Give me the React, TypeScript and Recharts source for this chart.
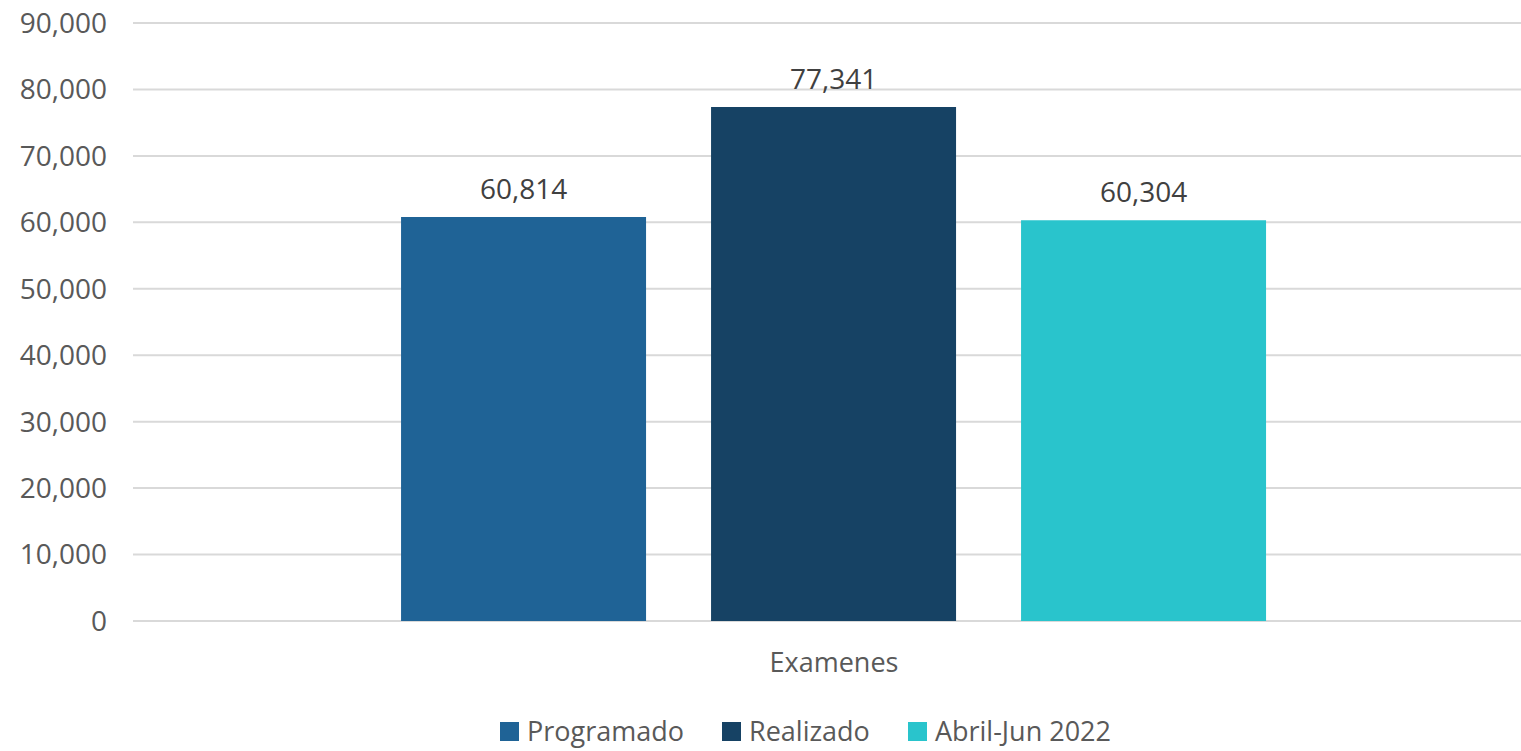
import { BarChart, Bar, XAxis, YAxis, CartesianGrid, Legend, LabelList } from 'recharts';

const categories = ['Examenes'];
const programado = [60814];
const realizado = [77341];
const abrilJun = [60304];
const yTicks = [0, 10000, 20000, 30000, 40000, 50000, 60000, 70000, 80000, 90000];

const series = [
  { key: 'programado', name: 'Programado', color: '#1F6396' },
  { key: 'realizado', name: 'Realizado', color: '#164264' },
  { key: 'abril', name: 'Abril-Jun 2022', color: '#29C4CC' },
];

const data = categories.map((c, i) => ({
  name: c,
  programado: programado[i],
  realizado: realizado[i],
  abril: abrilJun[i],
}));

const fmt = (v: number) => v.toLocaleString('en-US');
const FONT = '"Open Sans", sans-serif';

function LegendContent() {
  return (
    <div style={{ display: 'flex', justifyContent: 'flex-start', paddingLeft: 500, gap: 38, fontFamily: FONT, fontSize: 27, color: '#595959', lineHeight: '30px' }}>
      {series.map((s) => (
        <div key={s.key} style={{ display: 'flex', alignItems: 'center', gap: 8 }}>
          <span style={{ width: 19, height: 19, background: s.color, display: 'inline-block' }} />
          <span>{s.name}</span>
        </div>
      ))}
    </div>
  );
}

export default function App() {
  return (
    <div style={{ position: 'absolute', left: 0, top: 0, background: '#fff' }}>
      <BarChart
        width={1521}
        height={751}
        data={data}
        margin={{ top: 23, right: 0, left: 0, bottom: 0 }}
        barCategoryGap="18.49%"
        barGap={65}
      >
        <CartesianGrid vertical={false} stroke="#D9D9D9" strokeWidth={2} />
        <XAxis
          dataKey="name"
          axisLine={false}
          tickLine={false}
          height={100}
          padding={{ left: 14, right: 0 }}
          tickMargin={26}
          tick={{ fill: '#595959', fontSize: 27, fontFamily: FONT }}
        />
        <YAxis
          width={133}
          domain={[0, 90000]}
          ticks={yTicks}
          interval={0}
          axisLine={false}
          tickLine={false}
          tickMargin={20}
          tickFormatter={fmt}
          tick={{ fill: '#595959', fontSize: 28, fontFamily: FONT }}
        />
        <Legend verticalAlign="bottom" height={30} wrapperStyle={{ bottom: 5 }} content={<LegendContent />} />
        {series.map((s) => (
          <Bar key={s.key} dataKey={s.key} name={s.name} fill={s.color} isAnimationActive={false}>
            <LabelList
              dataKey={s.key}
              position="top"
              offset={18}
              formatter={(v: any) => fmt(Number(v))}
              style={{ fill: '#404040', fontSize: 28, fontFamily: FONT }}
            />
          </Bar>
        ))}
      </BarChart>
    </div>
  );
}
